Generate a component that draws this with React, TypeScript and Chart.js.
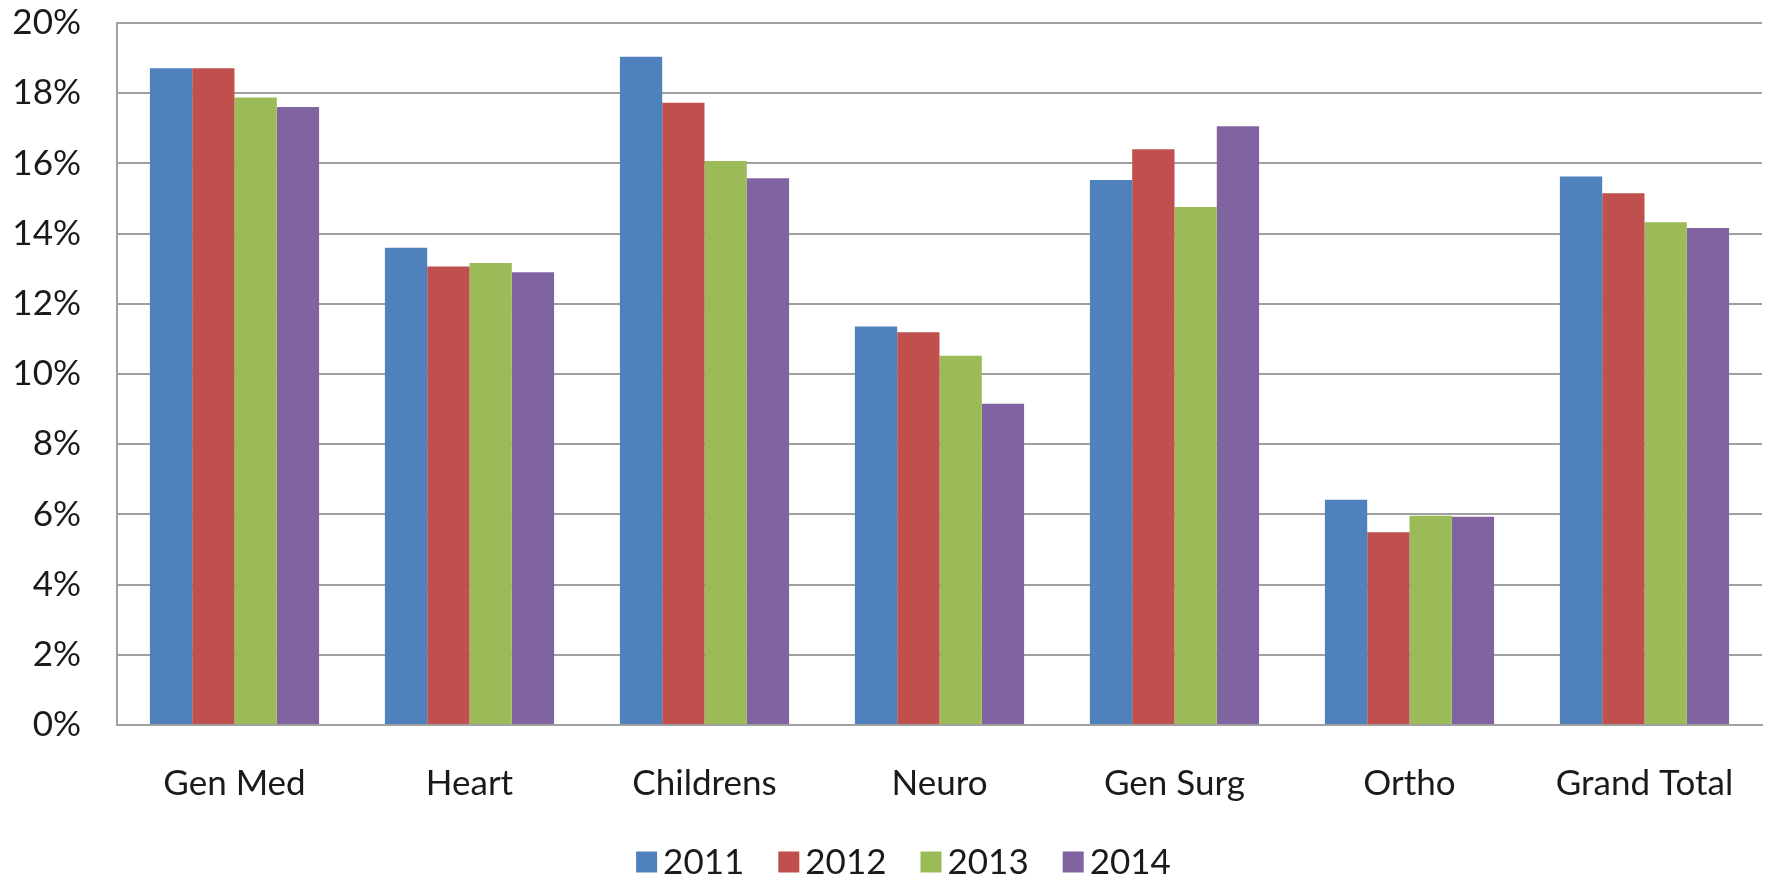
import React, { useEffect, useRef } from "react";
import { Chart, registerables } from "chart.js";

Chart.register(...registerables);

// Departments on the category axis
const categories = ["Gen Med", "Heart", "Childrens", "Neuro", "Gen Surg", "Ortho", "Grand Total"];

// Rate per department and year, in percent
const values2011 = [18.71, 13.6, 19.04, 11.35, 15.53, 6.42, 15.63];
const values2012 = [18.71, 13.06, 17.73, 11.19, 16.4, 5.49, 15.15];
const values2013 = [17.88, 13.16, 16.07, 10.52, 14.76, 5.96, 14.32];
const values2014 = [17.61, 12.9, 15.58, 9.15, 17.06, 5.93, 14.16];

const seriesLabels = ["2011", "2012", "2013", "2014"];
const seriesColors = ["#4F81BD", "#C0504D", "#9BBB59", "#8064A2"];

const yTickValues = [0, 2, 4, 6, 8, 10, 12, 14, 16, 18, 20];

const FONT_FAMILY = "Lato, 'Open Sans', sans-serif";
const FONT_SIZE = 35;
const TEXT_COLOR = "#1a1a1a";
const GRID_COLOR = "#a0a0a0";

// Legend drawn below the plot: small square, tight gap, then the year
const bottomLegend = {
  id: "bottomLegend",
  afterDraw(chart: any) {
    const ctx = chart.ctx as CanvasRenderingContext2D;
    const box = 21;
    const gap = 6;
    const spacing = 34;
    ctx.save();
    ctx.font = `${FONT_SIZE}px ${FONT_FAMILY}`;
    ctx.textBaseline = "middle";
    ctx.textAlign = "left";
    const items = chart.data.datasets.map((ds: any) => {
      const w = ctx.measureText(ds.label).width;
      return { label: ds.label, color: ds.backgroundColor, w: box + gap + w };
    });
    const total =
      items.reduce((s: number, it: any) => s + it.w, 0) + spacing * (items.length - 1);
    const centerX = chart.width / 2 + 17;
    const cy = chart.height - 17;
    let x = centerX - total / 2;
    for (const it of items) {
      ctx.fillStyle = it.color;
      ctx.fillRect(x, cy - box / 2, box, box);
      ctx.fillStyle = TEXT_COLOR;
      ctx.fillText(it.label, x + box + gap, cy + 1);
      x += it.w + spacing;
    }
    ctx.restore();
  },
};

export default function App() {
  const canvasRef = useRef<HTMLCanvasElement | null>(null);

  useEffect(() => {
    const canvas = canvasRef.current;
    if (!canvas) return;
    const series = [values2011, values2012, values2013, values2014];
    const chart = new Chart(canvas, {
      type: "bar",
      data: {
        labels: categories,
        datasets: series.map((vals, i) => ({
          label: seriesLabels[i],
          data: vals,
          backgroundColor: seriesColors[i],
          borderWidth: 0,
          categoryPercentage: 0.72,
          barPercentage: 1,
        })),
      },
      options: {
        responsive: false,
        animation: false,
        devicePixelRatio: 1,
        layout: { padding: { top: 23, right: 11, left: 0, bottom: 0 } },
        plugins: {
          legend: { display: false },
          tooltip: { enabled: false },
        },
        scales: {
          x: {
            grid: { display: false },
            border: { display: true, color: GRID_COLOR, width: 2 },
            ticks: {
              color: TEXT_COLOR,
              font: { family: FONT_FAMILY, size: FONT_SIZE },
              padding: 30,
              maxRotation: 0,
              autoSkip: false,
            },
            afterFit(scale: any) {
              scale.height = 154;
              scale.paddingLeft = 0;
              scale.paddingRight = 0;
            },
          },
          y: {
            min: 0,
            max: 20,
            afterBuildTicks(scale: any) {
              scale.ticks = yTickValues.map((v) => ({ value: v }));
            },
            grid: { color: GRID_COLOR, lineWidth: 2, drawTicks: false },
            border: { display: true, color: GRID_COLOR, width: 2 },
            ticks: {
              color: TEXT_COLOR,
              font: { family: FONT_FAMILY, size: FONT_SIZE },
              padding: 36,
              callback: (v: any) => `${v}%`,
            },
            afterFit(scale: any) {
              scale.width = 117;
              scale.paddingTop = 0;
              scale.paddingBottom = 0;
            },
          },
        },
      },
      plugins: [bottomLegend],
    });
    return () => chart.destroy();
  }, []);

  return (
    <div
      style={{
        position: "fixed",
        left: 0,
        top: 0,
        width: 1773,
        height: 879,
        background: "#ffffff",
      }}
    >
      <canvas ref={canvasRef} width={1773} height={879} style={{ display: "block" }} />
    </div>
  );
}
